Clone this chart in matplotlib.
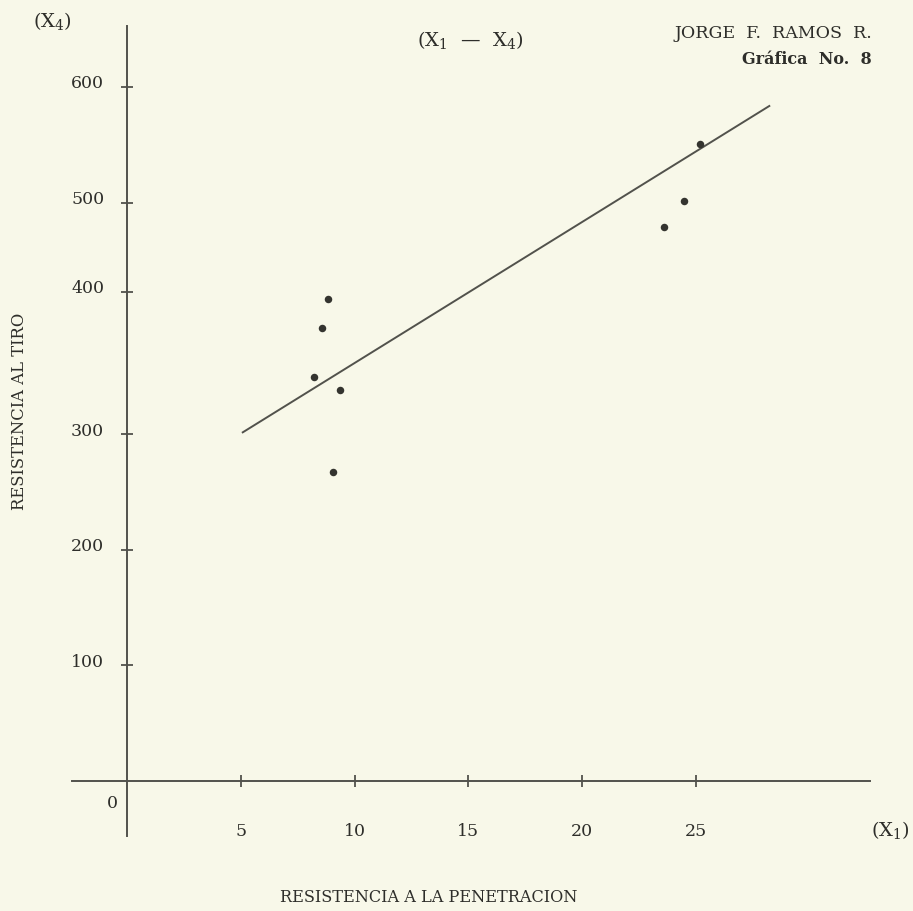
import matplotlib
matplotlib.use("Agg")
import matplotlib.pyplot as plt
from matplotlib.transforms import ScaledTranslation

# Resistencia a la penetracion (X1) vs resistencia al tiro (X4)
x1_vals = [8.83, 8.58, 8.24, 9.37, 9.04, 25.18, 24.50, 23.60]
x4_vals = [417, 392, 349, 338, 267, 551, 501, 479]

# regression line end points as drawn
fit_x = [5.05, 28.27]
fit_y = [301, 584]

x_ticks = [5, 10, 15, 20, 25]
x_tick_labels = ["5", "10", "15", "20", "25"]
# the "400" tick is drawn off-scale in the original sheet
y_ticks = [100, 200, 300, 423, 500, 600]
y_tick_labels = ["100", "200", "300", "400", "500", "600"]

BG = "#f8f8e9"
INK = "#2e2e2a"
AXIS = "#52524c"

plt.rcParams['font.family'] = ['DejaVu Serif']
plt.rcParams['mathtext.fontset'] = 'dejavuserif'

W, H = 913, 912
fig = plt.figure(figsize=(W / 100, H / 100), dpi=100, facecolor=BG)
ax = fig.add_axes([72 / W, 1 - 837 / H, 798 / W, 810 / H])
ax.set_facecolor(BG)

ax.set_xlim(-2.42, 32.66)
ax.set_ylim(-47.5, 652.7)

for side in ("top", "right"):
    ax.spines[side].set_visible(False)
for side in ("left", "bottom"):
    ax.spines[side].set_position(("data", 0))
    ax.spines[side].set_color(AXIS)
    ax.spines[side].set_linewidth(1.4)

ax.plot(fit_x, fit_y, color=AXIS, lw=1.4, solid_capstyle="butt")
ax.plot(x1_vals, x4_vals, "o", color="#34342f", ms=5.4, mec="none")

ax.set_xticks(x_ticks, x_tick_labels)
ax.set_yticks(y_ticks, y_tick_labels)
ax.tick_params(axis="both", direction="inout", length=9, width=1.3,
               color=AXIS, labelcolor=INK, labelsize=12.5)
ax.tick_params(axis="x", pad=25)
ax.tick_params(axis="y", pad=12)
shift = ScaledTranslation(0, 0.06, fig.dpi_scale_trans)
for lab in ax.get_yticklabels():
    lab.set_transform(lab.get_transform() + shift)

def ftext(px, py, s, **kw):
    fig.text(px / W, 1 - py / H, s, color=INK, **kw)

ftext(52, 21, r"(X$_4$)", fontsize=14, ha="center", va="center")
ftext(470, 40, r"(X$_1$  —  X$_4$)", fontsize=14, ha="center", va="center")
ftext(872, 33, "JORGE  F.  RAMOS  R.", fontsize=12.5, ha="right", va="center")
ftext(872, 60, "Gráfica  No.  8", fontsize=11.5, fontweight="bold", ha="right", va="center")
ftext(112, 803, "0", fontsize=12.5, ha="center", va="center")
ftext(890, 830, r"(X$_1$)", fontsize=14, ha="center", va="center")
ftext(429, 898, "RESISTENCIA A LA PENETRACION", fontsize=11.6, ha="center", va="center")
ftext(20, 411, "RESISTENCIA AL TIRO", fontsize=11.8, ha="center", va="center", rotation=90)

fig.savefig("out.png", dpi=100, facecolor=BG)
